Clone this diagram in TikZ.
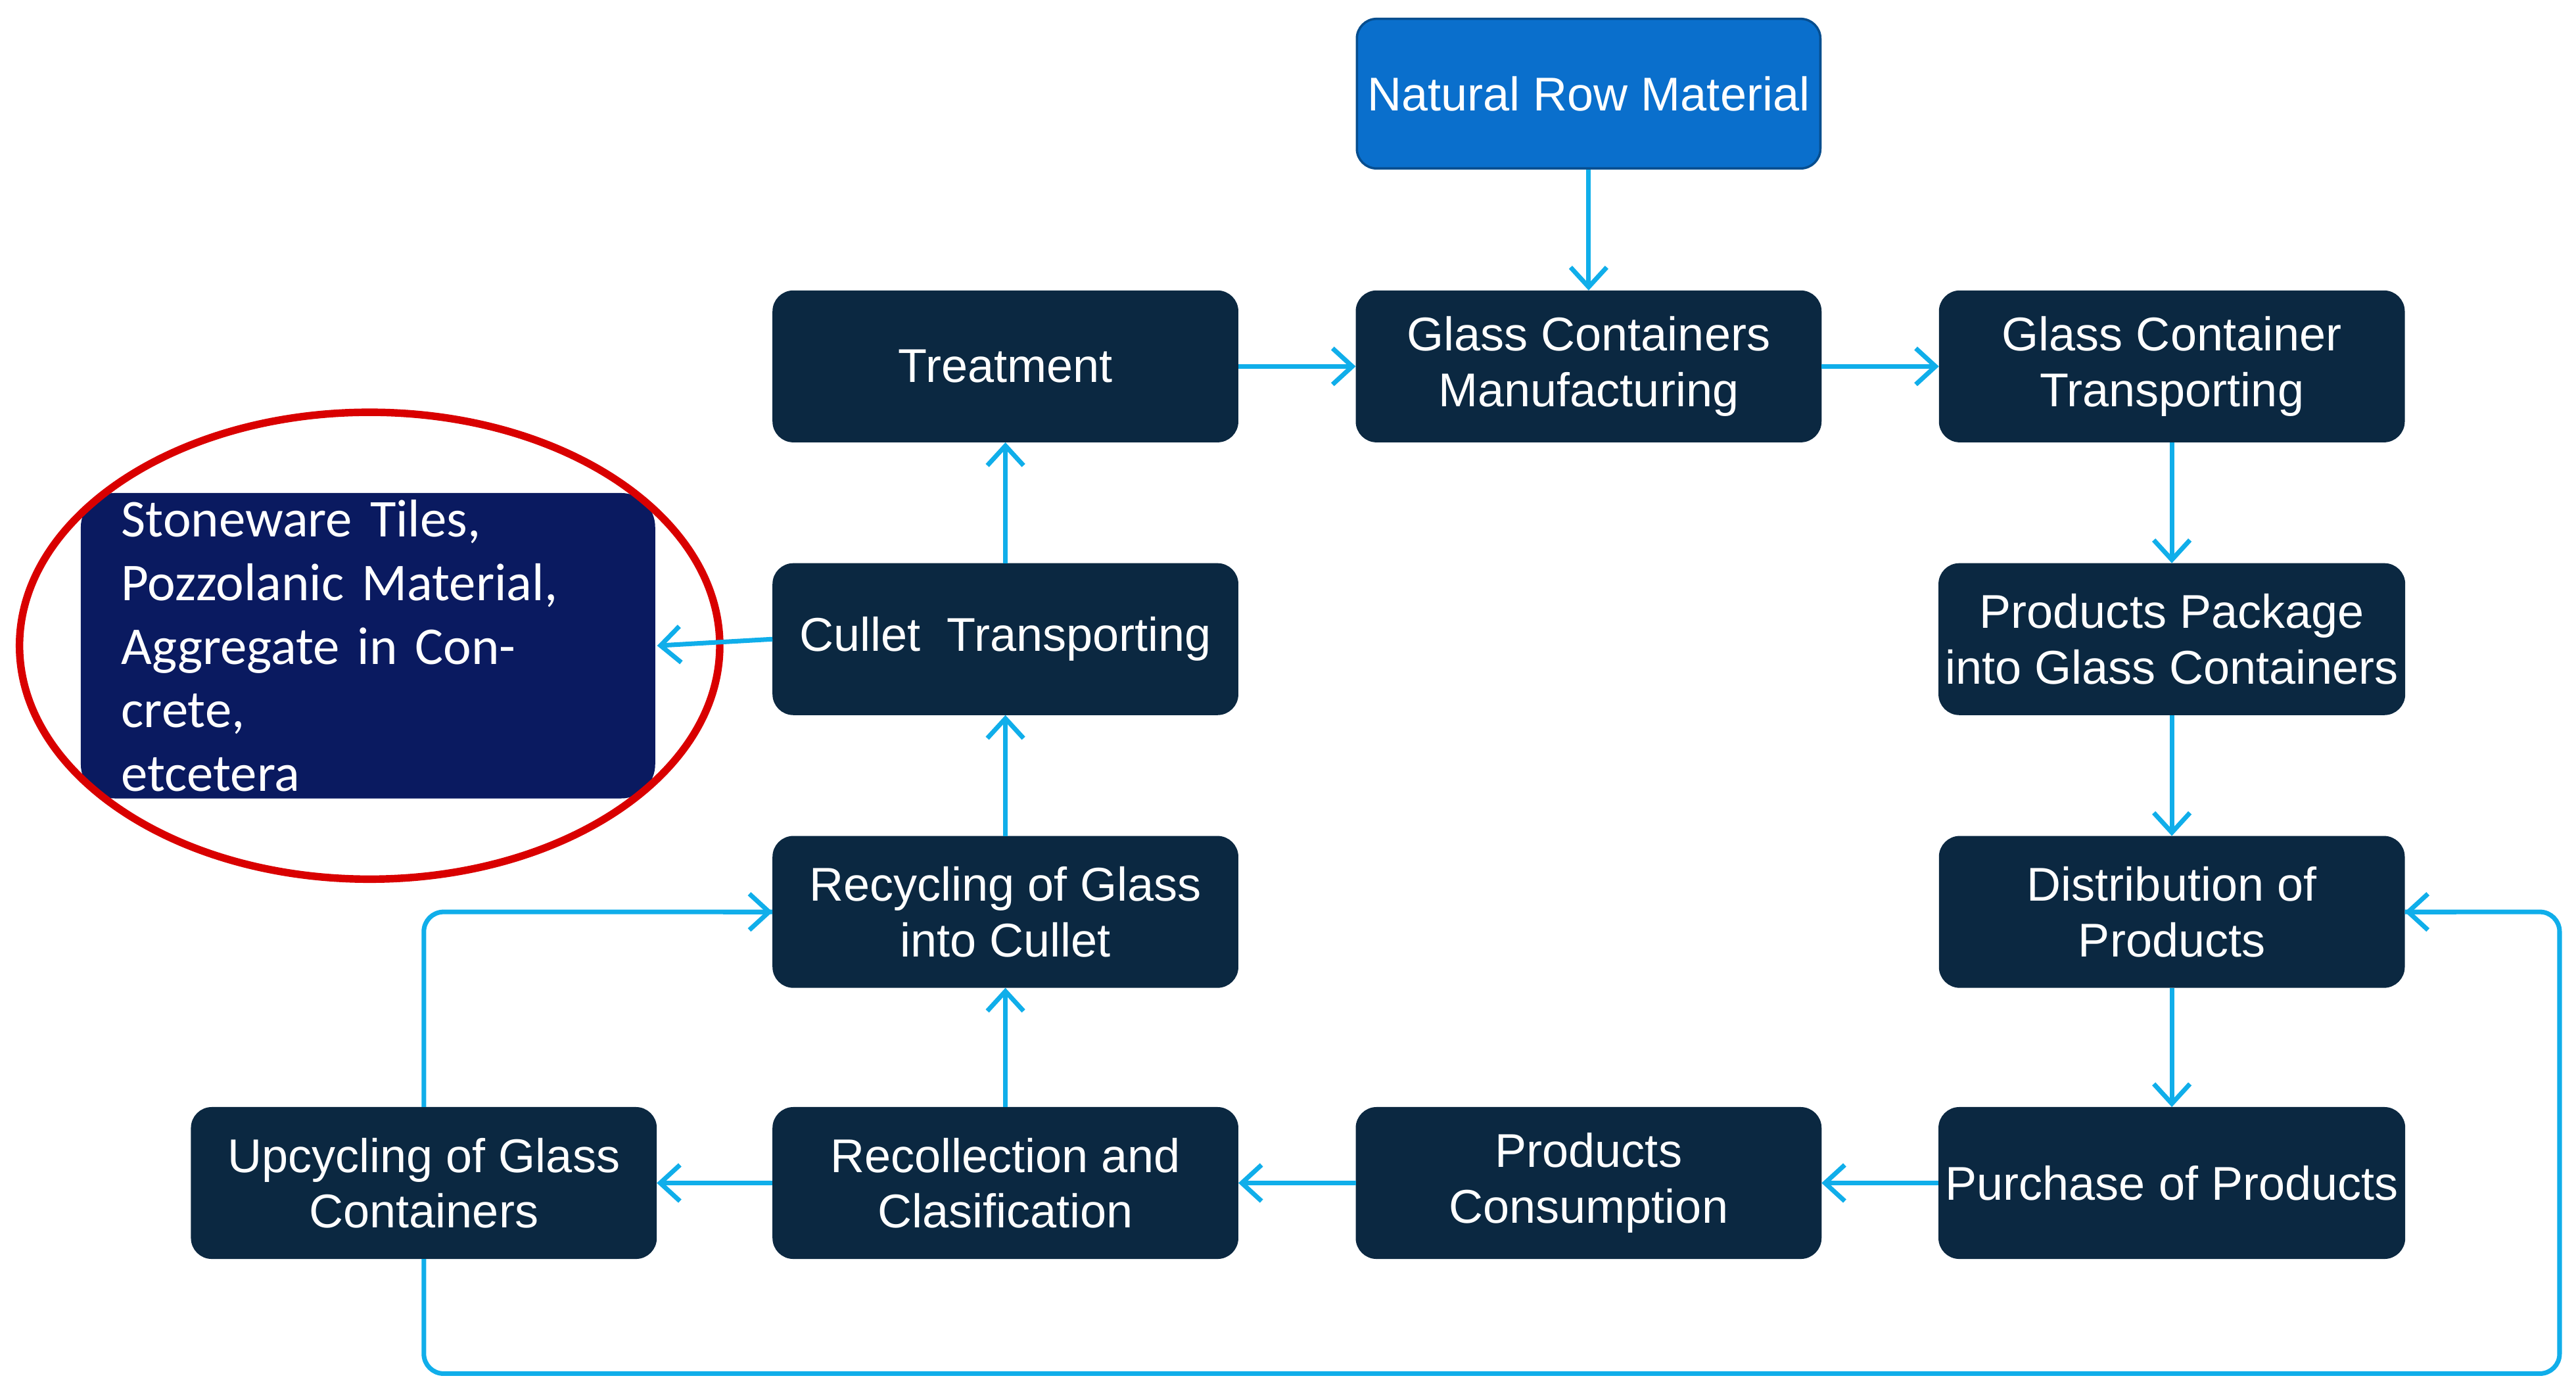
\documentclass[tikz,border=0pt]{standalone}
\usepackage{fontspec}
\setmainfont{Liberation Sans}
\newfontfamily\calib{Carlito}
\usetikzlibrary{arrows.meta}
\definecolor{boxdark}{HTML}{0B2841}
\definecolor{boxblue}{HTML}{0A6FCC}
\definecolor{navy}{HTML}{0A1A60}
\definecolor{arrowc}{HTML}{10AEEA}
\begin{document}
\begin{tikzpicture}[x=0.01cm,y=-0.01cm,
  box/.style={draw=boxdark, fill=boxdark, text=white, rounded corners=0.12cm,
    minimum width=2.82cm, minimum height=0.91cm, align=center,
    font=\fontsize{8.2}{9.6}\selectfont, inner sep=1pt},
  arr/.style={draw=arrowc, line width=0.8pt, -{Straight Barb[length=1.2mm,width=2.2mm]}},
  lp/.style={draw=arrowc, line width=0.8pt, rounded corners=0.12cm}]
\useasboundingbox (0,0) rectangle (1568,849);
% nodes
\node[box, fill=boxblue, draw=boxblue!70!black] (raw) at (967,57) {Natural Row Material};
\node[box] (treat) at (612,223) {Treatment};
\node[box] (manu) at (967,223) {Glass Containers\\Manufacturing};
\node[box] (trans) at (1322,223) {Glass Container\\Transporting};
\node[box] (cullet) at (612,389) {Cullet~ Transporting};
\node[box] (pack) at (1322,389) {Products Package\\into Glass Containers};
\node[box] (recyc) at (612,555) {Recycling of Glass\\into Cullet};
\node[box] (distr) at (1322,555) {Distribution of\\Products};
\node[box] (upcyc) at (258,720) {Upcycling of Glass\\Containers};
\node[box] (recol) at (612,720) {Recollection and\\Clasification};
\node[box] (cons) at (967,720) {Products\\Consumption};
\node[box] (purch) at (1322,720) {Purchase of Products};
\node[box, fill=navy, draw=navy, minimum width=3.48cm, minimum height=1.54cm,
  rounded corners=0.2cm, align=left, text width=3.0cm,
  font=\calib\fontsize{9.2}{11}\selectfont] (stone) at (224,393)
  {Stoneware Tiles,\\Pozzolanic Material,\\Aggregate in Concrete,\\etcetera};
\draw[red!85!black, line width=1.3pt] (225,393) ellipse (2.13cm and 1.42cm);
% connectors
\draw[arr] (raw) -- (manu);
\draw[arr] (treat) -- (manu);
\draw[arr] (manu) -- (trans);
\draw[arr] (trans) -- (pack);
\draw[arr] (pack) -- (distr);
\draw[arr] (distr) -- (purch);
\draw[arr] (purch) -- (cons);
\draw[arr] (cons) -- (recol);
\draw[arr] (recol) -- (upcyc);
\draw[arr] (recol) -- (recyc);
\draw[arr] (recyc) -- (cullet);
\draw[arr] (cullet) -- (treat);
\draw[arr] (cullet.west) -- (400,393);
\draw[lp] (upcyc.north) |- (recyc.west);
\draw[arr] (440,555) -- (recyc.west);
\draw[lp] (upcyc.south) -- (258,836) -- (1558,836) -- (1558,555) -- (distr.east);
\draw[arr] (1495,555) -- (distr.east);
\end{tikzpicture}
\end{document}
